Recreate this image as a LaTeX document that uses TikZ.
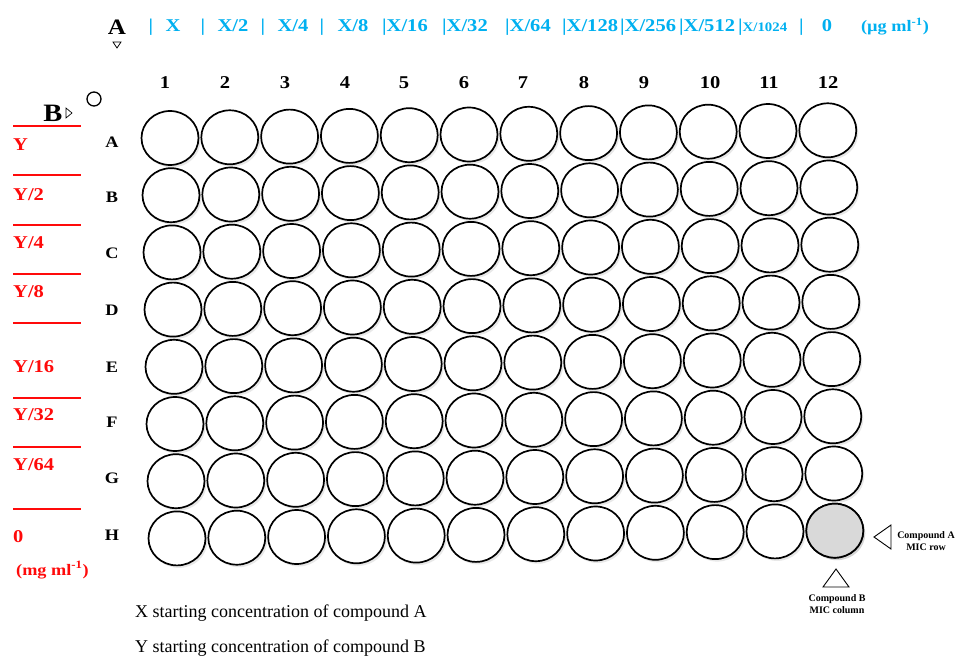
\documentclass[tikz,border=0pt]{standalone}
\usepackage{fontspec}
\setmainfont{Liberation Serif}
\newfontfamily\platefont{Liberation Serif}[FakeStretch=1.14]
\usepackage{tikz}
\usetikzlibrary{shapes.geometric, shadows, positioning, calc}
\definecolor{concblue}{RGB}{0,176,240}
\definecolor{concred}{RGB}{255,10,10}
\tikzset{
  well/.style={ellipse, draw=black, line width=1.7pt, fill=white, minimum width=57pt, minimum height=54pt, inner sep=0pt, drop shadow={shadow xshift=2pt, shadow yshift=-2.5pt, opacity=.18}},
  micwell/.style={fill=black!15},
  collabel/.style={font=\platefont\fontsize{18}{20}\selectfont\bfseries},
  rowlabel/.style={font=\platefont\fontsize{16}{18}\selectfont\bfseries},
  xconc/.style={text=concblue, inner sep=0pt, anchor=base west, font=\platefont\fontsize{18}{20}\selectfont\bfseries},
  yconc/.style={text=concred, inner sep=0pt, anchor=base west, font=\platefont\fontsize{18}{20}\selectfont\bfseries},
  redrule/.style={draw=concred, line width=1.2pt},
  marker/.style={draw=black, line width=0.9pt, fill=white},
  smallnote/.style={align=center, inner sep=0pt, font=\fontsize{10}{12}\selectfont\bfseries},
  note/.style={anchor=base west, inner sep=0pt, font=\fontsize{18}{20}\selectfont},
}

\begin{document}
\begin{tikzpicture}[x=1pt, y=-1pt]
\useasboundingbox (0,0) rectangle (957,655);
% compound A (columns)
\node[font=\platefont\fontsize{22}{24}\selectfont\bfseries] (compA) at (117,27) {A};
\coordinate (compAmark) at (117,45);
\draw[marker, line width=0.7pt] ($(compAmark)+(-4,-3)$) -- ($(compAmark)+(4,-3)$) -- ($(compAmark)+(0,3)$) -- cycle;
\foreach \x/\lab [count=\i] in {151/|, 173/X, 203/|, 233/{X/2}, 263/|, 293/{X/4}, 322/|, 353/{X/8}}
  \node[xconc, anchor=base] (xa\i) at (\x,32) {\lab};
\foreach \x/\lab [count=\i] in {382/16, 442/32, 505/64, 562/128, 620/256, 679/512}
  \node[xconc] (xb\i) at (\x,32) {|X/\lab};
\node[xconc] (xsmall) at (738,32) {|{\fontsize{13}{14}\selectfont X/1024}};
\node[xconc] (xend) at (799,32) {|};
\node[xconc, anchor=base] (xzero) at (827,32) {0};
\node[xconc, anchor=base, font=\platefont\fontsize{16}{18}\selectfont\bfseries] (xunit) at (895,32) {(µg ml\textsuperscript{-1})};
% compound B (rows)
\node[font=\platefont\fontsize{25}{26}\selectfont\bfseries] (compB) at (53,113) {B};
\coordinate (compBmark) at (69,113);
\draw[marker, line width=0.7pt] ($(compBmark)+(-3,-5)$) -- ($(compBmark)+(3,0)$) -- ($(compBmark)+(-3,5)$) -- cycle;
\node[circle, draw=black, line width=1.3pt, minimum size=14pt, inner sep=0pt] (blank) at (94,99) {};
\foreach \y in {126,175,225,274,323,398,447,509}
  \draw[redrule] (13,\y) -- (81,\y);
\foreach \y/\lab [count=\i] in {150/Y, 200/{Y/2}, 248/{Y/4}, 297/{Y/8}, 372/{Y/16}, 420/{Y/32}, 470/{Y/64}, 542/0}
  \node[yconc] (y\i) at (13,\y) {\lab};
\node[yconc, font=\platefont\fontsize{16}{18}\selectfont\bfseries] (yunit) at (16,575) {(mg ml\textsuperscript{-1})};
% plate
\foreach \x [count=\c] in {165,225,285,345,404,464,523,584,644,710,769,828}
  \node[collabel] (col\c) at (\x,83) {\c};
\foreach \rname/\y [count=\r] in {A/142, B/197, C/253, D/310, E/367, F/422, G/478, H/535}
  \node[rowlabel] (row\rname) at (112,\y) {\rname};
\foreach \rname [count=\r] in {A,B,C,D,E,F,G,H}
  \foreach \c in {1,...,12}
    \node[well] (\rname\c) at ({170+59.8*(\c-1)+(\r-1)}, {138+57.2*(\r-1)-0.7*(\c-1)}) {};
\node[well, micwell] (mic) at (H12) {};
% MIC markers
\coordinate (rowmark) at (883,537);
\draw[marker] ($(rowmark)+(-9,0)$) -- ($(rowmark)+(8,-12)$) -- ($(rowmark)+(8,12)$) -- cycle;
\node[smallnote] (microw) at (926,541) {Compound A\\MIC row};
\coordinate (colmark) at (836,578);
\draw[marker] ($(colmark)+(0,-9)$) -- ($(colmark)+(13,9)$) -- ($(colmark)+(-13,9)$) -- cycle;
\node[smallnote] (miccol) at (837,604) {Compound B\\MIC column};
% key
\node[note] (keyx) at (135,617) {X starting concentration of compound A};
\node[note] (keyy) at (135,652) {Y starting concentration of compound B};
\end{tikzpicture}
\end{document}
